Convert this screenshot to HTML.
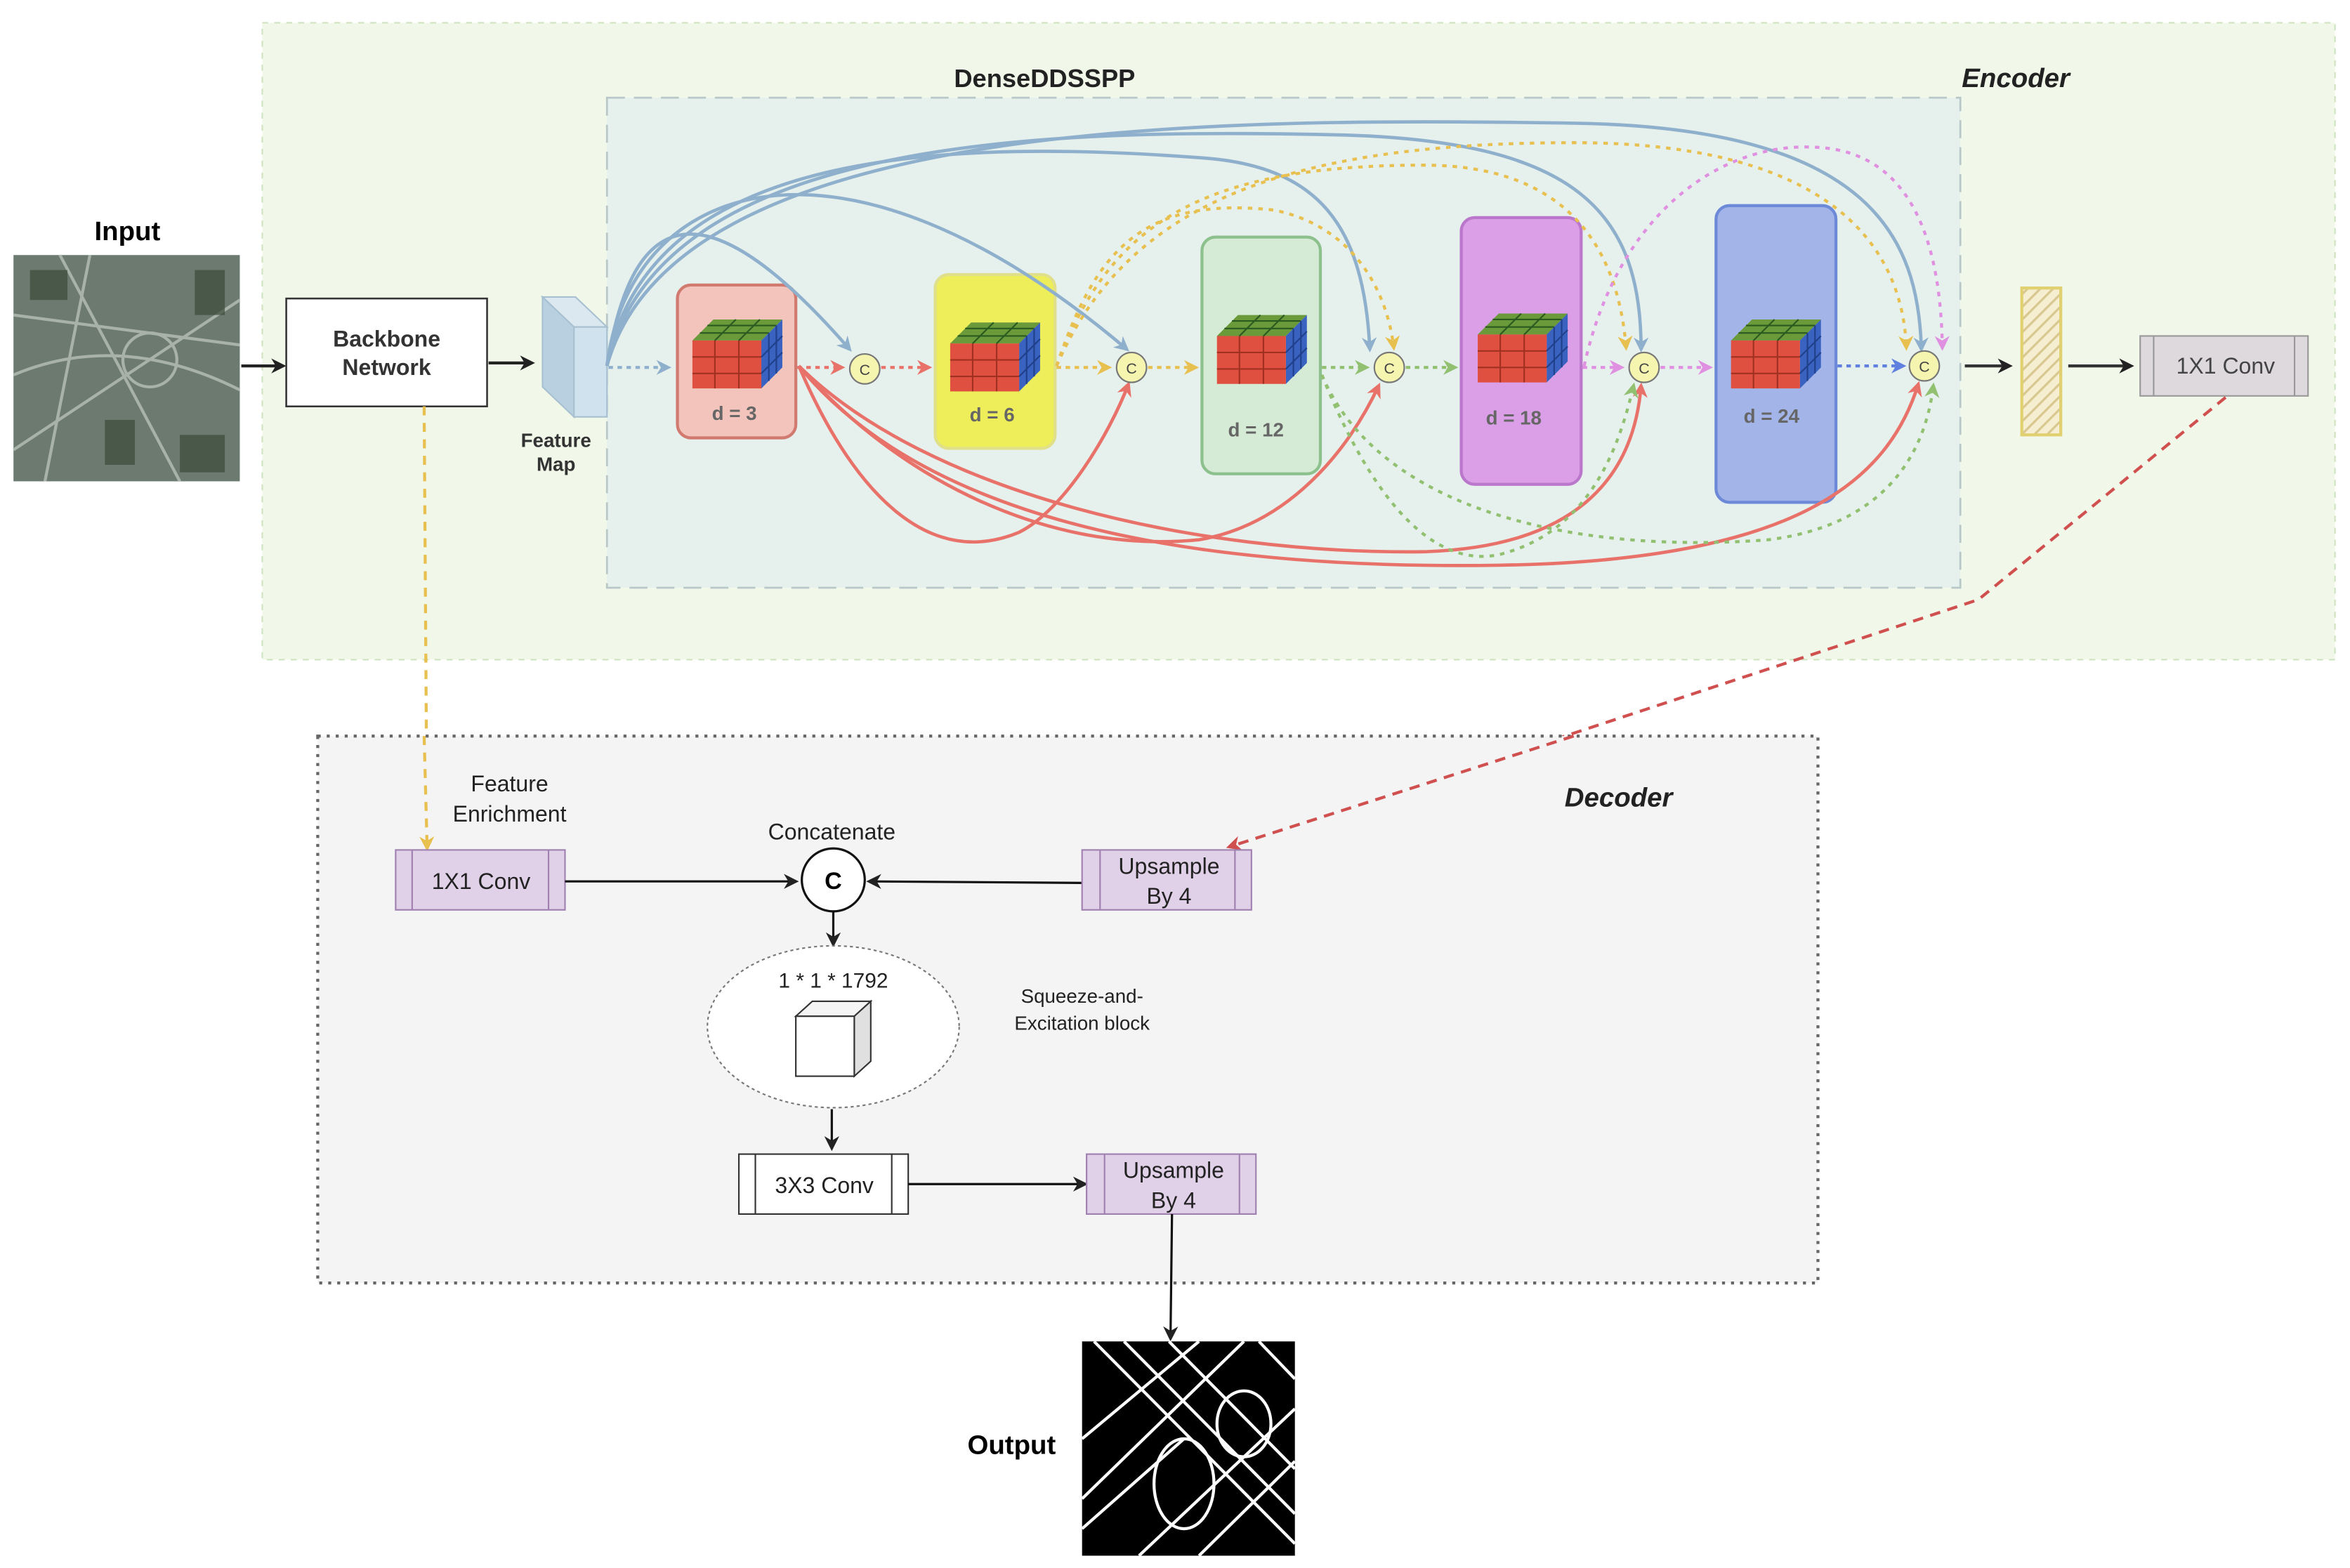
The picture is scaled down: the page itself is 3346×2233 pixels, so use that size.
<!DOCTYPE html>
<html><head><meta charset="utf-8"><style>html,body{margin:0;padding:0;background:#fff}svg{display:block}</style></head>
<body>
<svg width="3346" height="2233" viewBox="0 0 1568 1046" xmlns="http://www.w3.org/2000/svg" font-family="Liberation Sans, sans-serif">
<defs>
<marker id="ak" markerWidth="10" markerHeight="10" refX="8" refY="5" orient="auto" markerUnits="userSpaceOnUse"><path d="M0,0 L10,5 L0,10 L3,5z" fill="#222"/></marker>
<marker id="ab" markerWidth="10" markerHeight="10" refX="8" refY="5" orient="auto" markerUnits="userSpaceOnUse"><path d="M0,0 L10,5 L0,10 L3,5z" fill="#8fb0cc"/></marker>
<marker id="ar" markerWidth="10" markerHeight="10" refX="8" refY="5" orient="auto" markerUnits="userSpaceOnUse"><path d="M0,0 L10,5 L0,10 L3,5z" fill="#e8726a"/></marker>
<marker id="ay" markerWidth="10" markerHeight="10" refX="8" refY="5" orient="auto" markerUnits="userSpaceOnUse"><path d="M0,0 L10,5 L0,10 L3,5z" fill="#e8c050"/></marker>
<marker id="ag" markerWidth="10" markerHeight="10" refX="8" refY="5" orient="auto" markerUnits="userSpaceOnUse"><path d="M0,0 L10,5 L0,10 L3,5z" fill="#90c070"/></marker>
<marker id="ap" markerWidth="10" markerHeight="10" refX="8" refY="5" orient="auto" markerUnits="userSpaceOnUse"><path d="M0,0 L10,5 L0,10 L3,5z" fill="#e090e0"/></marker>
<marker id="av" markerWidth="10" markerHeight="10" refX="8" refY="5" orient="auto" markerUnits="userSpaceOnUse"><path d="M0,0 L10,5 L0,10 L3,5z" fill="#6080e0"/></marker>
<marker id="ad" markerWidth="10" markerHeight="10" refX="8" refY="5" orient="auto" markerUnits="userSpaceOnUse"><path d="M0,0 L10,5 L0,10 L3,5z" fill="#d05050"/></marker>
<pattern id="hatch" width="6" height="6" patternUnits="userSpaceOnUse" patternTransform="rotate(45)"><rect width="6" height="6" fill="#f6eed0"/><line x1="0" y1="0" x2="0" y2="6" stroke="#d8c890" stroke-width="3"/></pattern>
<g id="cube">
<polygon points="0,14 14,0 60,0 46,14" fill="#6a9a3a"/>
<polygon points="46,14 60,0 60,32 46,46" fill="#3a62c0"/>
<rect x="0" y="14" width="46" height="32" fill="#e05040"/>
<g stroke="#a03020" stroke-width="1"><line x1="15" y1="14" x2="15" y2="46"/><line x1="31" y1="14" x2="31" y2="46"/><line x1="0" y1="25" x2="46" y2="25"/><line x1="0" y1="36" x2="46" y2="36"/></g>
<g stroke="#2a5a20" stroke-width="1"><line x1="5" y1="9" x2="51" y2="9"/><line x1="10" y1="4" x2="56" y2="4"/><line x1="29" y1="0" x2="15" y2="14"/><line x1="45" y1="0" x2="31" y2="14"/></g>
<g stroke="#20408a" stroke-width="1"><line x1="51" y1="9" x2="51" y2="41"/><line x1="56" y1="4" x2="56" y2="36"/><line x1="46" y1="25" x2="60" y2="11"/><line x1="46" y1="36" x2="60" y2="22"/></g>
</g>
</defs>

<!-- Encoder background -->
<rect x="175" y="15" width="1383" height="425" fill="#f1f8e9" stroke="#cfe3c0" stroke-dasharray="4,4"/>
<rect x="405" y="65" width="903" height="327" fill="#e6f0ec" stroke="#b8c8c8" stroke-dasharray="12,6" stroke-width="1.3"/>
<text x="697" y="58" font-size="17" font-weight="bold" text-anchor="middle" fill="#222">DenseDDSSPP</text>
<text x="1345" y="58" font-size="18" font-weight="bold" font-style="italic" text-anchor="middle" fill="#222">Encoder</text>

<!-- Input -->
<text x="85" y="160" font-size="18" font-weight="bold" text-anchor="middle">Input</text>
<rect x="9" y="170" width="151" height="151" fill="#6c7a70"/>
<g stroke="#b8c0b8" stroke-width="2" fill="none" opacity="0.8">
<path d="M9,250 Q80,220 160,260"/><path d="M40,170 L120,321"/><path d="M9,300 L160,200"/><circle cx="100" cy="240" r="18"/><path d="M60,170 L30,321"/><path d="M9,210 L160,230"/>
</g>
<g fill="#3a4a38" opacity="0.7"><rect x="20" y="180" width="25" height="20"/><rect x="120" y="290" width="30" height="25"/><rect x="70" y="280" width="20" height="30"/><rect x="130" y="180" width="20" height="30"/></g>
<line x1="161" y1="244" x2="189" y2="244" stroke="#222" stroke-width="2" marker-end="url(#ak)"/>

<!-- Backbone -->
<rect x="191" y="199" width="134" height="72" fill="#fff" stroke="#333" stroke-width="1.2"/>
<text x="258" y="231" font-size="15" font-weight="bold" text-anchor="middle" fill="#333">Backbone</text>
<text x="258" y="250" font-size="15" font-weight="bold" text-anchor="middle" fill="#333">Network</text>
<line x1="326" y1="242" x2="355" y2="242" stroke="#222" stroke-width="2" marker-end="url(#ak)"/>
<path d="M283,271 L285,566" stroke="#e8c050" stroke-width="2" stroke-dasharray="6,5" fill="none" marker-end="url(#ay)"/>

<!-- Feature map -->
<polygon points="362,198 383,218 405,218 384,198" fill="#dbe8f0" stroke="#a8c0d0"/>
<polygon points="362,198 383,218 383,278 362,258" fill="#b8d0e0" stroke="#a8c0d0"/>
<rect x="383" y="218" width="22" height="60" fill="#cfe2ee" stroke="#a8c0d0"/>
<text x="371" y="298" font-size="13" font-weight="bold" text-anchor="middle" fill="#333">Feature</text>
<text x="371" y="314" font-size="13" font-weight="bold" text-anchor="middle" fill="#333">Map</text>

<!-- blocks -->
<rect x="452" y="190" width="79" height="102" rx="9" fill="#f2c4bc" stroke="#d07a70" stroke-width="2"/>
<use href="#cube" x="462" y="213"/>
<text x="490" y="280" font-size="13" font-weight="bold" text-anchor="middle" fill="#666">d = 3</text>
<rect x="624" y="183" width="80" height="116" rx="9" fill="#eeee5a" stroke="#e0e08a" stroke-width="2"/>
<use href="#cube" x="634" y="215"/>
<text x="662" y="281" font-size="13" font-weight="bold" text-anchor="middle" fill="#666">d = 6</text>
<rect x="802" y="158" width="79" height="158" rx="9" fill="#d5ebd5" stroke="#8cc08c" stroke-width="2"/>
<use href="#cube" x="812" y="210"/>
<text x="838" y="291" font-size="13" font-weight="bold" text-anchor="middle" fill="#666">d = 12</text>
<rect x="975" y="145" width="80" height="178" rx="9" fill="#da9fe6" stroke="#bb77cc" stroke-width="2"/>
<use href="#cube" x="986" y="209"/>
<text x="1010" y="283" font-size="13" font-weight="bold" text-anchor="middle" fill="#666">d = 18</text>
<rect x="1145" y="137" width="80" height="198" rx="9" fill="#a2b4e8" stroke="#6c8ad8" stroke-width="2"/>
<use href="#cube" x="1155" y="213"/>
<text x="1182" y="282" font-size="13" font-weight="bold" text-anchor="middle" fill="#666">d = 24</text>

<!-- blue curves from feature map -->
<g stroke="#8fb0cc" stroke-width="2.2" fill="none">
<path d="M405,244 C420,150 460,110 567,233" marker-end="url(#ab)"/>
<path d="M405,244 C420,120 560,70 752,233" marker-end="url(#ab)"/>
<path d="M405,244 C430,110 600,90 800,105 C880,110 910,150 914,233" marker-end="url(#ab)"/>
<path d="M405,244 C440,90 700,85 900,90 C1050,95 1095,140 1095,233" marker-end="url(#ab)"/>
<path d="M405,244 C450,80 800,78 1050,82 C1250,85 1280,160 1282,233" marker-end="url(#ab)"/>
</g>
<!-- red curves from d=3 -->
<g stroke="#e8726a" stroke-width="2.2" fill="none">
<path d="M533,244 C570,330 620,380 680,355 C710,340 740,290 753,256" marker-end="url(#ar)"/>
<path d="M533,244 C600,320 700,370 800,360 C860,350 900,300 920,257" marker-end="url(#ar)"/>
<path d="M533,244 C620,330 800,370 950,368 C1050,365 1090,320 1095,257" marker-end="url(#ar)"/>
<path d="M533,244 C620,350 800,380 1000,377 C1200,374 1260,320 1280,256" marker-end="url(#ar)"/>
</g>
<!-- yellow dotted from d=6 -->
<g stroke="#e8c050" stroke-width="2" fill="none" stroke-dasharray="3,4">
<path d="M705,244 C730,170 760,130 850,140 C900,150 925,190 930,232" marker-end="url(#ay)"/>
<path d="M705,244 C740,150 800,110 950,110 C1050,110 1080,170 1085,232" marker-end="url(#ay)"/>
<path d="M705,244 C750,140 850,95 1050,95 C1240,95 1270,180 1272,232" marker-end="url(#ay)"/>
</g>
<!-- green dotted from d=12 -->
<g stroke="#90c070" stroke-width="2" fill="none" stroke-dasharray="3,4">
<path d="M882,250 C910,320 950,380 1000,370 C1060,355 1080,300 1090,257" marker-end="url(#ag)"/>
<path d="M882,250 C920,340 1050,370 1180,360 C1260,350 1285,300 1290,257" marker-end="url(#ag)"/>
</g>
<!-- pink dotted from d=18 -->
<path d="M1057,244 C1080,140 1150,95 1210,98 C1280,100 1295,170 1296,232" stroke="#e090e0" stroke-width="2" fill="none" stroke-dasharray="3,4" marker-end="url(#ap)"/>

<!-- sequential arrows -->
<line x1="406" y1="245" x2="446" y2="245" stroke="#8fb0cc" stroke-width="2" stroke-dasharray="3,3" marker-end="url(#ab)"/>
<line x1="532" y1="245" x2="562" y2="245" stroke="#e8726a" stroke-width="2" stroke-dasharray="3,3" marker-end="url(#ar)"/>
<line x1="588" y1="245" x2="620" y2="245" stroke="#e8726a" stroke-width="2" stroke-dasharray="3,3" marker-end="url(#ar)"/>
<line x1="705" y1="245" x2="740" y2="245" stroke="#e8c050" stroke-width="2" stroke-dasharray="3,3" marker-end="url(#ay)"/>
<line x1="766" y1="245" x2="798" y2="245" stroke="#e8c050" stroke-width="2" stroke-dasharray="3,3" marker-end="url(#ay)"/>
<line x1="882" y1="245" x2="912" y2="245" stroke="#90c070" stroke-width="2" stroke-dasharray="3,3" marker-end="url(#ag)"/>
<line x1="938" y1="245" x2="971" y2="245" stroke="#90c070" stroke-width="2" stroke-dasharray="3,3" marker-end="url(#ag)"/>
<line x1="1056" y1="245" x2="1082" y2="245" stroke="#e090e0" stroke-width="2" stroke-dasharray="3,3" marker-end="url(#ap)"/>
<line x1="1108" y1="245" x2="1141" y2="245" stroke="#e090e0" stroke-width="2" stroke-dasharray="3,3" marker-end="url(#ap)"/>
<line x1="1226" y1="244" x2="1270" y2="244" stroke="#6080e0" stroke-width="2" stroke-dasharray="3,3" marker-end="url(#av)"/>

<!-- C circles -->
<g fill="#f5f5b0" stroke="#777" stroke-width="1">
<circle cx="577" cy="246" r="10"/><circle cx="755" cy="245" r="10"/><circle cx="927" cy="245" r="10"/><circle cx="1097" cy="245" r="10"/><circle cx="1284" cy="244" r="10"/>
</g>
<g font-size="10" text-anchor="middle" fill="#444">
<text x="577" y="250">C</text><text x="755" y="249">C</text><text x="927" y="249">C</text><text x="1097" y="249">C</text><text x="1284" y="248">C</text>
</g>

<line x1="1311" y1="244" x2="1341" y2="244" stroke="#333" stroke-width="2" marker-end="url(#ak)"/>
<rect x="1349" y="192" width="26" height="98" fill="url(#hatch)" stroke="#e0d070" stroke-width="2"/>
<line x1="1380" y1="244" x2="1422" y2="244" stroke="#333" stroke-width="2" marker-end="url(#ak)"/>
<rect x="1428" y="224" width="112" height="40" fill="#ddd9dd" stroke="#999"/>
<line x1="1437" y1="224" x2="1437" y2="264" stroke="#999"/><line x1="1531" y1="224" x2="1531" y2="264" stroke="#999"/>
<text x="1485" y="249" font-size="15" text-anchor="middle" fill="#444">1X1 Conv</text>
<path d="M1485,265 L1320,400 L820,565" stroke="#d05050" stroke-width="2" fill="none" stroke-dasharray="7,5" marker-end="url(#ad)"/>

<!-- Decoder -->
<rect x="212" y="491" width="1001" height="365" fill="#f4f4f4" stroke="#666" stroke-width="2" stroke-dasharray="2,4"/>
<path d="M283,491 L285,566" stroke="#e8c050" stroke-width="2" stroke-dasharray="6,5" fill="none" marker-end="url(#ay)"/>
<path d="M1050,491 L820,565" stroke="#d05050" stroke-width="2" fill="none" stroke-dasharray="7,5" marker-end="url(#ad)"/>
<text x="1080" y="538" font-size="18" font-weight="bold" font-style="italic" text-anchor="middle" fill="#222">Decoder</text>
<text x="340" y="528" font-size="15" text-anchor="middle" fill="#222">Feature</text>
<text x="340" y="548" font-size="15" text-anchor="middle" fill="#222">Enrichment</text>
<rect x="264" y="567" width="113" height="40" fill="#e0d0e8" stroke="#a080b0"/>
<line x1="275" y1="567" x2="275" y2="607" stroke="#a080b0"/><line x1="366" y1="567" x2="366" y2="607" stroke="#a080b0"/>
<text x="321" y="593" font-size="15" text-anchor="middle" fill="#222">1X1 Conv</text>
<line x1="377" y1="588" x2="531" y2="588" stroke="#111" stroke-width="1.5" marker-end="url(#ak)"/>
<text x="555" y="560" font-size="15" text-anchor="middle" fill="#222">Concatenate</text>
<circle cx="556" cy="587" r="21" fill="#fff" stroke="#111" stroke-width="1.5"/>
<text x="556" y="593" font-size="16" font-weight="bold" text-anchor="middle">C</text>
<line x1="722" y1="589" x2="580" y2="588" stroke="#111" stroke-width="1.5" marker-end="url(#ak)"/>
<rect x="722" y="567" width="113" height="40" fill="#e0d0e8" stroke="#a080b0"/>
<line x1="734" y1="567" x2="734" y2="607" stroke="#a080b0"/><line x1="824" y1="567" x2="824" y2="607" stroke="#a080b0"/>
<text x="780" y="583" font-size="15" text-anchor="middle" fill="#222">Upsample</text>
<text x="780" y="603" font-size="15" text-anchor="middle" fill="#222">By 4</text>
<line x1="556" y1="608" x2="556" y2="630" stroke="#111" stroke-width="1.5" marker-end="url(#ak)"/>
<ellipse cx="556" cy="685" rx="84" ry="54" fill="#fff" stroke="#777" stroke-dasharray="2,2"/>
<text x="556" y="659" font-size="14" text-anchor="middle" fill="#222">1 * 1 * 1792</text>
<polygon points="531,678 542,668 581,668 570,678" fill="#f4f4f4" stroke="#333"/>
<polygon points="570,678 581,668 581,708 570,718" fill="#e0e0e0" stroke="#333"/>
<rect x="531" y="678" width="39" height="40" fill="#fff" stroke="#333"/>
<text x="722" y="669" font-size="13" text-anchor="middle" fill="#222">Squeeze-and-</text>
<text x="722" y="687" font-size="13" text-anchor="middle" fill="#222">Excitation block</text>
<line x1="555" y1="740" x2="555" y2="766" stroke="#111" stroke-width="1.5" marker-end="url(#ak)"/>
<rect x="493" y="770" width="113" height="40" fill="#fff" stroke="#333"/>
<line x1="504" y1="770" x2="504" y2="810" stroke="#333"/><line x1="595" y1="770" x2="595" y2="810" stroke="#333"/>
<text x="550" y="796" font-size="15" text-anchor="middle" fill="#222">3X3 Conv</text>
<line x1="606" y1="790" x2="724" y2="790" stroke="#111" stroke-width="1.5" marker-end="url(#ak)"/>
<rect x="725" y="770" width="113" height="40" fill="#e0d0e8" stroke="#a080b0"/>
<line x1="737" y1="770" x2="737" y2="810" stroke="#a080b0"/><line x1="827" y1="770" x2="827" y2="810" stroke="#a080b0"/>
<text x="783" y="786" font-size="15" text-anchor="middle" fill="#222">Upsample</text>
<text x="783" y="806" font-size="15" text-anchor="middle" fill="#222">By 4</text>
<line x1="782" y1="810" x2="781" y2="893" stroke="#111" stroke-width="1.5" marker-end="url(#ak)"/>

<!-- Output -->
<text x="675" y="970" font-size="18" font-weight="bold" text-anchor="middle">Output</text>
<rect x="722" y="895" width="142" height="143" fill="#000"/>
<g stroke="#fff" stroke-width="2" fill="none">
<path d="M722,960 L800,895"/><path d="M722,1000 L830,895"/><path d="M750,895 L864,1010"/><path d="M780,895 L864,980"/>
<path d="M722,1020 L790,960"/><path d="M840,895 L864,920"/><path d="M760,1038 L864,940"/><path d="M800,1038 L864,975"/>
<ellipse cx="790" cy="990" rx="20" ry="30"/><ellipse cx="830" cy="950" rx="18" ry="22"/><path d="M730,895 L864,1030"/>
</g>
</svg>
</body></html>
